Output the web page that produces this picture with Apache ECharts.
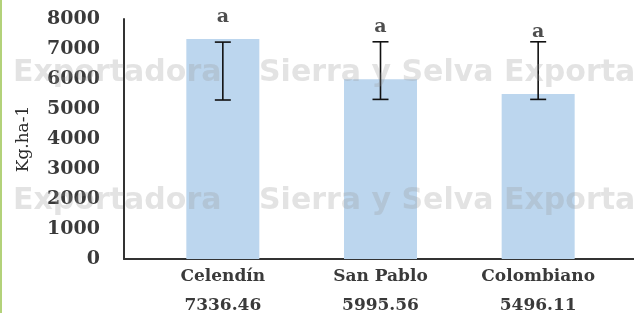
<!DOCTYPE html>
<html>
<head>
<meta charset="utf-8">
<script src="https://cdn.jsdelivr.net/npm/echarts@6/dist/echarts.min.js"></script>
<style>
html,body{margin:0;padding:0;background:#fff;}
#chart{width:634px;height:313px;}
</style>
</head>
<body>
<div id="chart"></div>
<script>
const categories = ['Celendín', 'San Pablo', 'Colombiano'];
const yieldValues = [7336.46, 5995.56, 5496.11];
const errLow = [5300, 5320, 5320];
const errHigh = [7230, 7240, 7240];
const sigLetters = ['a', 'a', 'a'];
const sigLabelY = [8070, 7730, 7570];
const yMin = 0, yMax = 8000, yInterval = 1000;
const yAxisName = 'Kg.ha-1';
const watermarkRows = [
  ['a', 'Exportadora', 'Sierra y Selva Exportadora'],
  ['a', 'Exportadora', 'Sierra y Selva Exportadora'],
  ['a', 'Exportadora', 'Sierra y Selva Exportadora']
];

const serif = 'DejaVu Serif';
const textColor = '#3a3a3a';
const gridTop = 19, gridBottom = 54;

const chart = echarts.init(document.getElementById('chart'), null, {renderer: 'canvas'});

const wmY = [73, 201, 329];
const graphics = [
  {type: 'rect', left: 0, top: 0, shape: {x: 0, y: 0, width: 2, height: 313}, style: {fill: '#b3d27a'}, z: 100}
];
watermarkRows.forEach((row, r) => {
  const xs = [-18, 13, 259];
  row.forEach((t, k) => {
    graphics.push({
      type: 'text', x: xs[k], y: wmY[r], z: 100, silent: true,
      style: {text: t, fill: 'rgba(150,150,150,0.27)', font: 'bold 30px "DejaVu Sans"', textVerticalAlign: 'middle', textAlign: 'left'}
    });
  });
});

const option = {
  animation: false,
  backgroundColor: '#fff',
  grid: [
    {left: 144, right: 17, top: gridTop, bottom: gridBottom, containLabel: false, outerBoundsMode: 'none'},
    {left: 124, right: 0, top: gridTop, bottom: gridBottom, containLabel: false, outerBoundsMode: 'none'}
  ],
  xAxis: [
    {
      type: 'category', gridIndex: 0, data: categories,
      axisLine: {show: false}, axisTick: {show: false},
      axisLabel: {
        margin: 3, color: textColor, fontFamily: serif, fontWeight: 'bold', fontSize: 17, lineHeight: 29,
        formatter: (v, i) => v + '\n' + yieldValues[i].toFixed(2)
      }
    },
    {
      type: 'value', gridIndex: 1, min: 0, max: 1,
      axisLine: {show: true, onZero: false, lineStyle: {color: '#333', width: 2}},
      axisTick: {show: false}, axisLabel: {show: false}, splitLine: {show: false}
    }
  ],
  yAxis: [
    {type: 'value', gridIndex: 0, min: yMin, max: yMax, interval: yInterval, show: false, splitLine: {show: false}},
    {
      type: 'value', gridIndex: 1, min: yMin, max: yMax, interval: yInterval,
      name: yAxisName, nameLocation: 'middle', nameGap: 92, nameRotate: 90,
      nameTextStyle: {fontFamily: serif, fontSize: 17, color: '#2a2a2a'},
      axisLine: {show: true, lineStyle: {color: '#333', width: 2}},
      axisTick: {show: false}, splitLine: {show: false},
      axisLabel: {margin: 24, color: textColor, fontFamily: serif, fontWeight: 'bold', fontSize: 19,
        formatter: v => String(v)}
    }
  ],
  series: [
    {
      type: 'bar', xAxisIndex: 0, yAxisIndex: 0, data: yieldValues, barWidth: 73,
      itemStyle: {color: '#bcd6ee'}
    },
    {
      type: 'custom', xAxisIndex: 0, yAxisIndex: 0, z: 5,
      data: categories.map((c, i) => [i, errLow[i], errHigh[i]]),
      renderItem: (params, api) => {
        const lo = api.coord([api.value(0), api.value(1)]);
        const hi = api.coord([api.value(0), api.value(2)]);
        const hw = 8;
        const st = {stroke: '#111', lineWidth: 1.6};
        return {type: 'group', children: [
          {type: 'line', shape: {x1: hi[0], y1: hi[1], x2: lo[0], y2: lo[1]}, style: st},
          {type: 'line', shape: {x1: hi[0] - hw, y1: hi[1], x2: hi[0] + hw, y2: hi[1]}, style: st},
          {type: 'line', shape: {x1: lo[0] - hw, y1: lo[1], x2: lo[0] + hw, y2: lo[1]}, style: st}
        ]};
      }
    },
    {
      type: 'scatter', xAxisIndex: 0, yAxisIndex: 0, clip: false, symbolSize: 0,
      data: categories.map((c, i) => [i, sigLabelY[i]]),
      label: {
        show: true, position: 'inside', formatter: p => sigLetters[p.dataIndex],
        color: '#222', fontFamily: serif, fontWeight: 'bold', fontSize: 19
      }
    }
  ],
  graphic: graphics
};
chart.setOption(option);
</script>
</body>
</html>
